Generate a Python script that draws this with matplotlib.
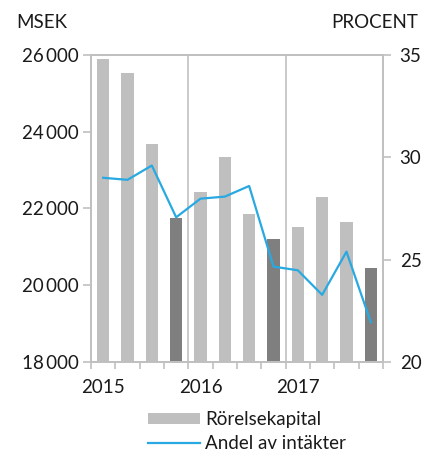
import numpy as np
import matplotlib.pyplot as plt
import matplotlib.ticker as mticker
from matplotlib.patches import Rectangle
from matplotlib.lines import Line2D

plt.rcParams['font.family'] = ['Lato', 'DejaVu Sans']

# quarterly data 2015 Q1 - 2017 Q4
quarters = ['Q1 2015', 'Q2 2015', 'Q3 2015', 'Q4 2015',
            'Q1 2016', 'Q2 2016', 'Q3 2016', 'Q4 2016',
            'Q1 2017', 'Q2 2017', 'Q3 2017', 'Q4 2017']
rorelsekapital = [25900, 25530, 23690, 21740, 22420, 23330,
                  21860, 21210, 21530, 22300, 21640, 20445]
andel = [29.0, 28.9, 29.6, 27.07, 27.98, 28.08,
         28.6, 24.66, 24.48, 23.28, 25.39, 21.94]
years = ['2015', '2016', '2017']

light = '#bfbfbf'
dark = '#7f7f7f'
blue = '#29a9e1'
grey = '#c0c0c0'
txt = '#1a1a1a'
fs = 13.5

fig = plt.figure(figsize=(4.23, 4.5), dpi=100)
ax = fig.add_axes([0.2151, 0.1956, 0.6903, 0.6822])
ax2 = ax.twinx()

x = np.arange(len(quarters))
# Q4 bars are dark
colors = [dark if i % 4 == 3 else light for i in range(len(quarters))]
ax.bar(x, rorelsekapital, width=0.5, color=colors, zorder=2)
ax2.plot(x, andel, color=blue, lw=1.6, zorder=3)

ax.set_xlim(-0.5, len(quarters) - 0.5)
ax.set_ylim(18000, 26000)
ax2.set_ylim(20, 35)
ax.set_yticks([18000, 20000, 22000, 24000, 26000])
ax2.set_yticks([20, 25, 30, 35])
ax.yaxis.set_major_formatter(mticker.FuncFormatter(lambda v, p: f'{int(v):,}'.replace(',', '\u2009')))

# year separators
for xb in [3.5, 7.5]:
    ax.axvline(xb, color=grey, lw=1.2, zorder=1)

# x ticks at quarter boundaries, year labels under Q1
ax.set_xticks(np.arange(-0.5, len(quarters), 1.0))
ax.set_xticklabels([])
ax.tick_params(axis='x', length=5, width=1.2, color=grey, direction='out')
for i, yr in enumerate(years):
    ax.text(i * 4, -0.055, yr, transform=ax.get_xaxis_transform(),
            ha='center', va='top', fontsize=fs, color=txt)

for a in (ax, ax2):
    for s in a.spines.values():
        s.set_color(grey)
        s.set_linewidth(1.4)
ax.tick_params(axis='y', length=6, width=1.2, color=grey, labelsize=fs,
               labelcolor=txt, pad=3)
ax2.tick_params(axis='y', length=6, width=1.2, color=grey, labelsize=fs,
                labelcolor=txt, pad=6)

fig.text(0.038, 0.951, 'MSEK', fontsize=fs, color=txt, va='center')
fig.text(0.988, 0.951, 'PROCENT', fontsize=fs, color=txt, va='center', ha='right')

handles = [Rectangle((0, 0), 1, 1, facecolor=light, edgecolor='none'),
           Line2D([], [], color=blue, lw=1.6)]
fig.legend(handles, ['Rörelsekapital', 'Andel av intäkter'], loc='upper left',
           bbox_to_anchor=(0.333, 0.103), frameon=False, fontsize=fs,
           handlelength=2.77, handleheight=0.55, handletextpad=0.27, labelspacing=0.38,
           borderaxespad=0, labelcolor=txt)

fig.savefig('out.png', dpi=100)
